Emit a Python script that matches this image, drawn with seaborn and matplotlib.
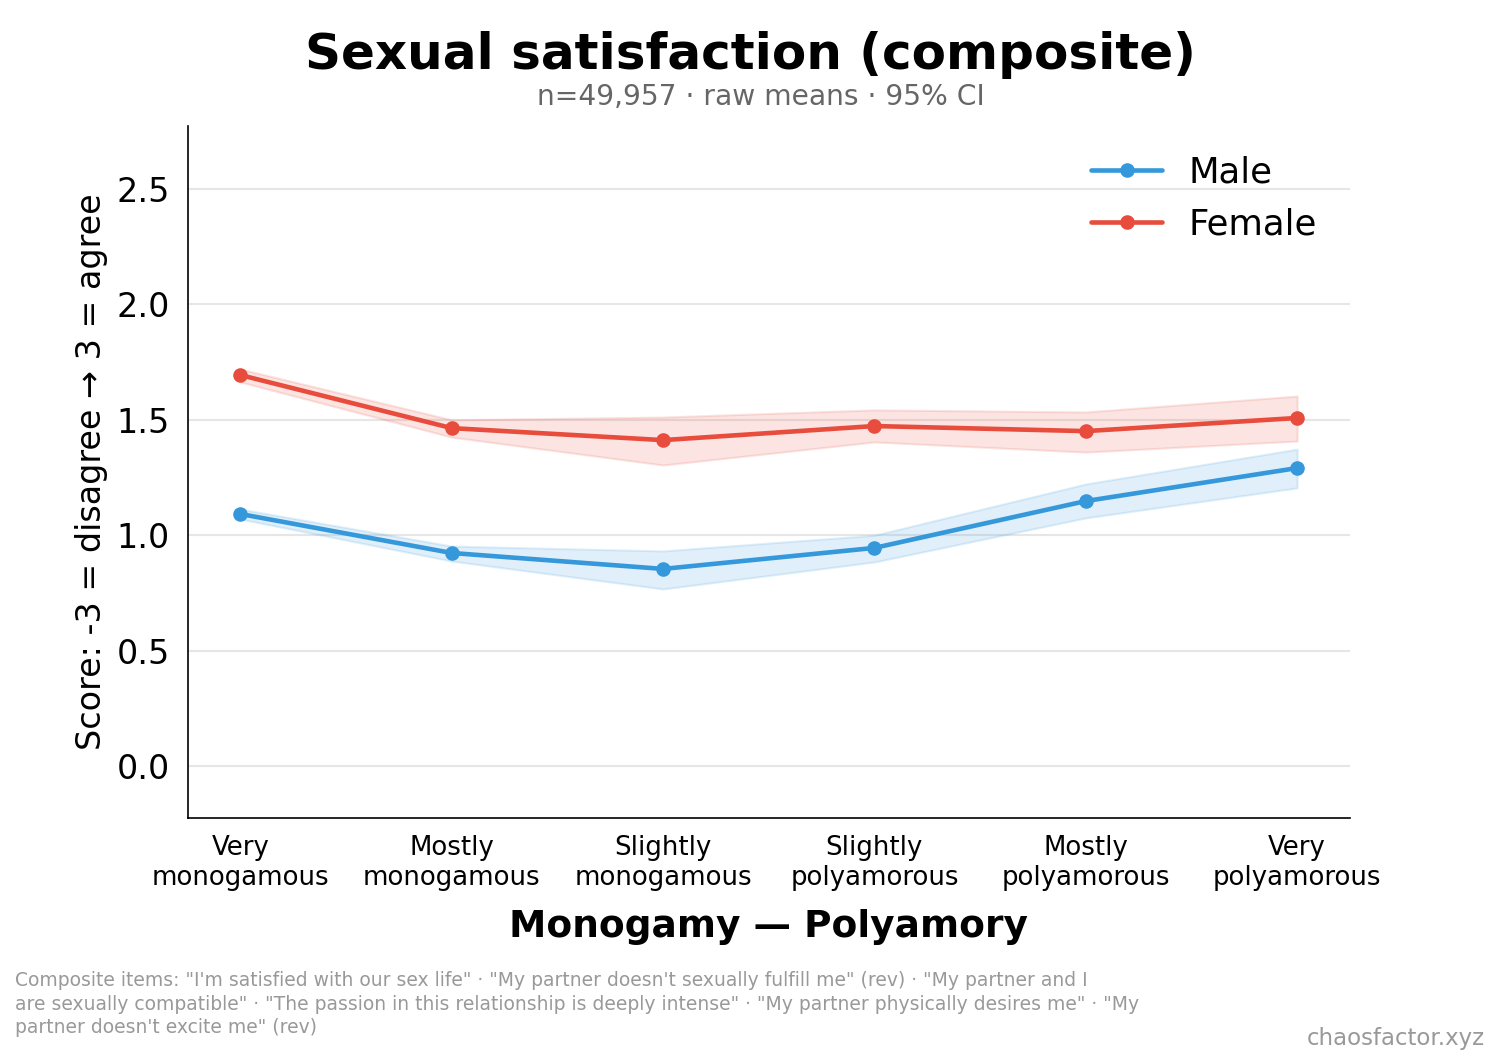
import numpy as np
import pandas as pd
import matplotlib
matplotlib.use("Agg")
import matplotlib.pyplot as plt
import seaborn as sns

categories = ["Very\nmonogamous", "Mostly\nmonogamous", "Slightly\nmonogamous",
              "Slightly\npolyamorous", "Mostly\npolyamorous", "Very\npolyamorous"]

male_mean = [1.092, 0.923, 0.854, 0.945, 1.148, 1.291]
male_lo = [1.070, 0.888, 0.767, 0.884, 1.075, 1.205]
male_hi = [1.113, 0.953, 0.932, 1.000, 1.222, 1.373]

female_mean = [1.694, 1.464, 1.412, 1.473, 1.451, 1.508]
female_lo = [1.664, 1.425, 1.304, 1.404, 1.360, 1.408]
female_hi = [1.720, 1.500, 1.512, 1.543, 1.534, 1.603]

colors = {"Male": "#3498db", "Female": "#e74c3c"}

df = pd.DataFrame({
    "x": list(range(6)) * 2,
    "score": male_mean + female_mean,
    "lo": male_lo + female_lo,
    "hi": male_hi + female_hi,
    "gender": ["Male"] * 6 + ["Female"] * 6,
})

sns.set_style("white")
plt.rcParams.update({"text.color": "black", "axes.labelcolor": "black",
                     "xtick.color": "black", "ytick.color": "black",
                     "axes.edgecolor": "black"})
fig = plt.figure(figsize=(10, 7), dpi=150)
ax = fig.add_axes([0.125, 0.221, 0.775, 0.659])

for g in ["Male", "Female"]:
    d = df[df["gender"] == g]
    ax.fill_between(d["x"], d["lo"], d["hi"], color=colors[g], alpha=0.15, lw=1)

sns.lineplot(data=df, x="x", y="score", hue="gender", palette=colors, marker="o",
             markersize=7, markeredgewidth=0, linewidth=2.2, ax=ax, errorbar=None)

ax.set_xlim(-0.25, 5.25)
ax.set_ylim(-0.225, 2.773)
ax.set_xticks(range(6))
ax.set_xticklabels(categories, fontsize=12.5)
ax.set_yticks([0, 0.5, 1.0, 1.5, 2.0, 2.5])
ax.set_yticklabels(["0.0", "0.5", "1.0", "1.5", "2.0", "2.5"])
ax.tick_params(axis="y", labelsize=16, length=5)
ax.tick_params(axis="x", length=5, pad=3)
ax.grid(axis="y", color="#e6e6e6", lw=1)
ax.set_axisbelow(True)
sns.despine(ax=ax)

ax.set_xlabel("Monogamy — Polyamory", fontsize=18, fontweight="bold", labelpad=9)
ax.set_ylabel("Score: -3 = disagree → 3 = agree", fontsize=16)

ax.legend(loc="upper right", fontsize=17, frameon=False, title=None,
          handlelength=2.0, handletextpad=0.75, bbox_to_anchor=(0.999, 1.003))

fig.text(0.5, 0.948, "Sexual satisfaction (composite)", ha="center", va="center",
         fontsize=24, fontweight="bold")
fig.text(0.507, 0.908, "n=49,957 · raw means · 95% CI", ha="center", va="center",
         fontsize=13.5, color="#666666")

fig.text(0.01, 0.012,
         "Composite items: \"I'm satisfied with our sex life\" · \"My partner doesn't sexually fulfill me\" (rev) · \"My partner and I\n"
         "are sexually compatible\" · \"The passion in this relationship is deeply intense\" · \"My partner physically desires me\" · \"My\n"
         "partner doesn't excite me\" (rev)",
         ha="left", va="bottom", fontsize=9, color="#999999", linespacing=1.3)
fig.text(0.99, 0.0, "chaosfactor.xyz", ha="right", va="bottom", fontsize=11, color="#999999")

fig.savefig("out.png", dpi=150)
